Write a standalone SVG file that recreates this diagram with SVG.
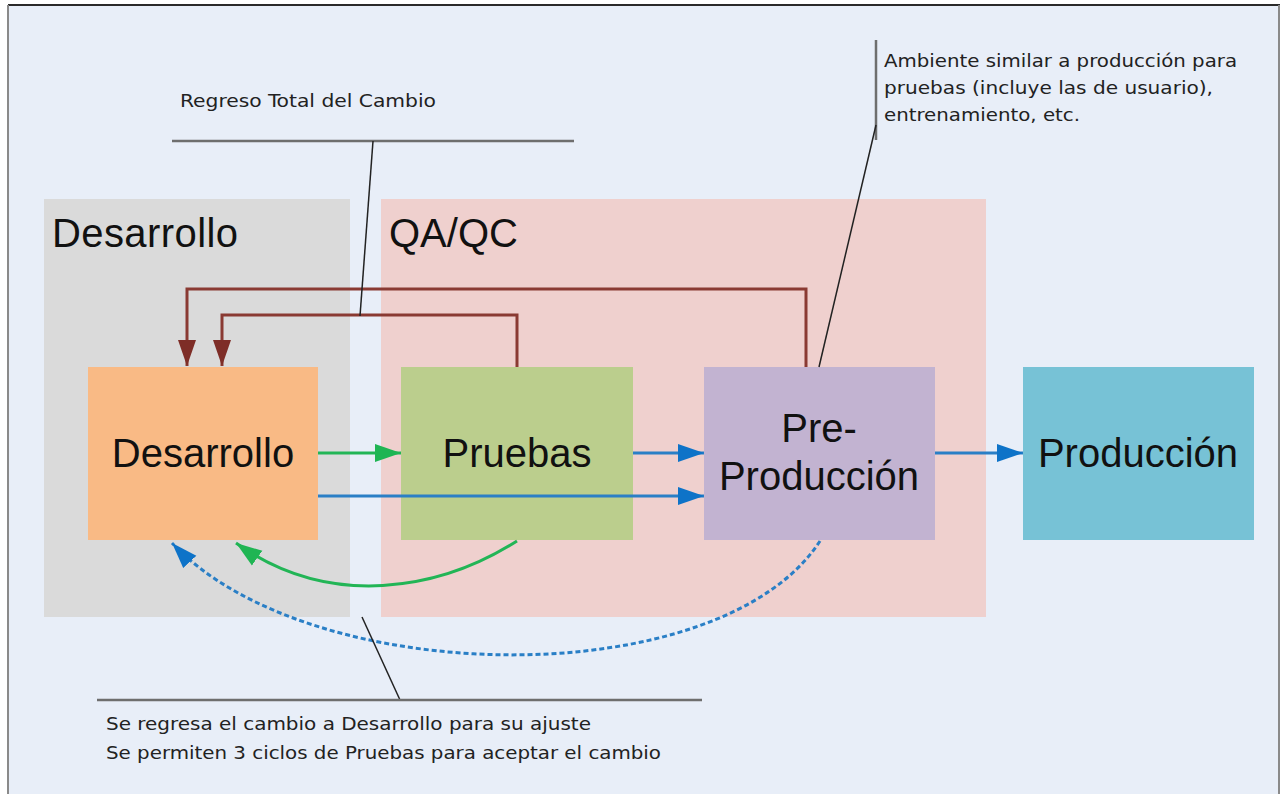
<svg xmlns="http://www.w3.org/2000/svg" width="1282" height="794" viewBox="0 0 1282 794">
<defs>
<style>
.big{font-family:"Liberation Sans",Arial,sans-serif;font-size:40px;fill:#111}
.note{font-family:"DejaVu Sans Condensed","DejaVu Sans",Verdana,sans-serif;font-size:18px;fill:#222}
.brown{fill:none;stroke:#8A3A33;stroke-width:3}
.green{fill:none;stroke:#22B556;stroke-width:3}
.blue{fill:none;stroke:#2A7FC6;stroke-width:3}
.lead{fill:none;stroke:#222;stroke-width:1.5}
.bar{fill:none;stroke:#6E6E6E;stroke-width:2.5}
</style>
<marker id="mBrown" markerUnits="userSpaceOnUse" markerWidth="26" markerHeight="20" refX="26" refY="10" orient="auto" viewBox="0 0 26 20"><path d="M0,1 L26,10 L0,19 z" fill="#7E2D27"/></marker>
<marker id="mGreen" markerUnits="userSpaceOnUse" markerWidth="26" markerHeight="20" refX="26" refY="10" orient="auto" viewBox="0 0 26 20"><path d="M0,1 L26,10 L0,19 z" fill="#1FB553"/></marker>
<marker id="mBlue" markerUnits="userSpaceOnUse" markerWidth="26" markerHeight="20" refX="26" refY="10" orient="auto" viewBox="0 0 26 20"><path d="M0,1 L26,10 L0,19 z" fill="#0E73C8"/></marker>
</defs>
<rect x="0" y="0" width="1282" height="794" fill="#FFFFFF"/>
<rect x="8" y="5" width="1272" height="789" fill="#E8EEF8"/>
<line x1="8" y1="5" x2="1280" y2="5" stroke="#2A2A2A" stroke-width="2"/>
<line x1="8" y1="5" x2="8" y2="794" stroke="#8A8A8A" stroke-width="2"/>
<line x1="1279" y1="5" x2="1279" y2="794" stroke="#8A8A8A" stroke-width="2"/>

<g id="group-desarrollo">
<rect x="44" y="199" width="306" height="418" fill="#DADADA"/>
<text class="big" x="52" y="247" textLength="186">Desarrollo</text>
</g>
<g id="group-qaqc">
<rect x="381" y="199" width="605" height="418" fill="#EFD0CE"/>
<text class="big" x="389" y="247">QA/QC</text>
</g>

<g id="node-desarrollo">
<rect x="88" y="367" width="230" height="173" fill="#F9BA85"/>
<text class="big" x="203" y="467" text-anchor="middle">Desarrollo</text>
</g>
<g id="node-pruebas">
<rect x="401" y="367" width="232" height="173" fill="#BBCE8D"/>
<text class="big" x="517" y="467" text-anchor="middle">Pruebas</text>
</g>
<g id="node-preproduccion">
<rect x="704" y="367" width="231" height="173" fill="#C2B3D1"/>
<text class="big" x="819" y="442" text-anchor="middle">Pre-</text>
<text class="big" x="819" y="490" text-anchor="middle">Producción</text>
</g>
<g id="node-produccion">
<rect x="1023" y="367" width="231" height="173" fill="#77C2D6"/>
<text class="big" x="1138" y="467" text-anchor="middle">Producción</text>
</g>

<g id="connectors">
<polyline class="brown" points="806,367 806,289 187,289 187,366" marker-end="url(#mBrown)"/>
<polyline class="brown" points="517,367 517,315 222,315 222,366" marker-end="url(#mBrown)"/>
<line class="green" x1="318" y1="453" x2="401" y2="453" marker-end="url(#mGreen)"/>
<line class="blue" x1="633" y1="453" x2="704" y2="453" marker-end="url(#mBlue)"/>
<line class="blue" x1="318" y1="496" x2="704" y2="496" marker-end="url(#mBlue)"/>
<line class="blue" x1="935" y1="453" x2="1023" y2="453" marker-end="url(#mBlue)"/>
<path class="green" d="M517,541 C440,590 330,610 236,543" marker-end="url(#mGreen)"/>
<path class="blue" d="M820,541 C720,695 310,690 172,543" stroke-dasharray="5,3" marker-end="url(#mBlue)"/>
</g>

<g id="note-regreso">
<text class="note" x="180" y="107" textLength="256" lengthAdjust="spacingAndGlyphs">Regreso Total del Cambio</text>
<line class="bar" x1="172" y1="141" x2="574" y2="141"/>
<line class="lead" x1="373" y1="141" x2="360" y2="316"/>
</g>
<g id="note-ambiente">
<line class="bar" x1="876" y1="40" x2="876" y2="140" stroke-width="2"/>
<line class="lead" x1="876" y1="125" x2="819" y2="367"/>
<text class="note" x="884" y="67" textLength="353" lengthAdjust="spacingAndGlyphs">Ambiente similar a producción para</text>
<text class="note" x="884" y="94" textLength="329" lengthAdjust="spacingAndGlyphs">pruebas (incluye las de usuario),</text>
<text class="note" x="884" y="121" textLength="196" lengthAdjust="spacingAndGlyphs">entrenamiento, etc.</text>
</g>
<g id="note-ciclos">
<line class="lead" x1="362" y1="617" x2="400" y2="700"/>
<line class="bar" x1="97" y1="700" x2="702" y2="700"/>
<text class="note" x="106" y="730" textLength="485" lengthAdjust="spacingAndGlyphs">Se regresa el cambio a Desarrollo para su ajuste</text>
<text class="note" x="106" y="759" textLength="555" lengthAdjust="spacingAndGlyphs">Se permiten 3 ciclos de Pruebas para aceptar el cambio</text>
</g>
</svg>
